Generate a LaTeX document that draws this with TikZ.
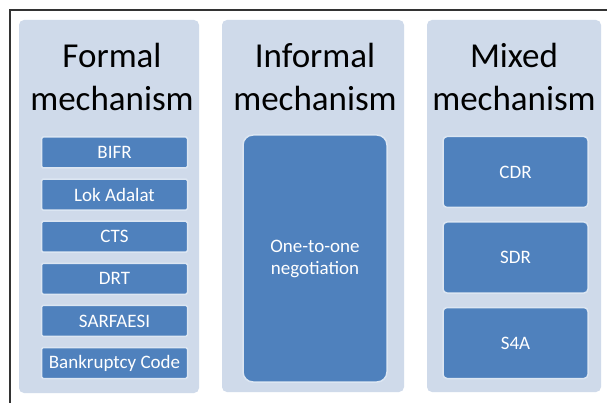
\documentclass[tikz,border=0pt]{standalone}
\usepackage{fontspec}
\setmainfont{Carlito}
\definecolor{colfill}{HTML}{CFDAEA}
\definecolor{boxfill}{HTML}{4F81BD}
\definecolor{boxline}{HTML}{DCE6F2}
\definecolor{framecol}{HTML}{333333}
\begin{document}
\begin{tikzpicture}[x=1pt,y=-1pt,
  colbox/.style={fill=colfill, draw=none, rounded corners=5pt},
  title/.style={font=\fontsize{35}{43}\selectfont, align=center, text=black, inner sep=0pt},
  item/.style={fill=boxfill, draw=boxline, line width=1.5pt, text=white,
     font=\fontsize{19}{22}\selectfont, align=center, inner sep=0pt},
  frameline/.style={draw=framecol, line width=1.6pt}]
\useasboundingbox (0,0) rectangle (607,403);
\fill[white] (0,0) rectangle (607,403);
\draw[frameline] (10,403) -- (10,10) -- (607,10);
% columns
\fill[colbox] (19,20) rectangle (199,393);
\fill[colbox] (222,20) rectangle (404,392);
\fill[colbox] (427,20) rectangle (601,392);
% titles
\node[title] (tf) at (112,77) {Formal\\mechanism};
\node[title] (ti) at (315,77) {Informal\\mechanism};
\node[title] (tm) at (514,77) {Mixed\\mechanism};
% formal items
\foreach \n/\t [count=\i from 0] in {bifr/BIFR, lok/Lok Adalat, cts/CTS, drt/DRT, sarf/SARFAESI, bank/Bankruptcy Code}{
  \node[item, rounded corners=1.5pt, minimum width=146pt, minimum height=31pt] (\n) at (114.5,{152.5+42.1*\i}) {\t};
}
% informal item
\node[item, rounded corners=10pt, minimum width=144pt, minimum height=247pt] (one) at (315,258.5) {One-to-one\\negotiation};
% mixed items
\foreach \n/\t [count=\i from 0] in {cdr/CDR, sdr/SDR, sfa/S4A}{
  \node[item, rounded corners=4pt, minimum width=145pt, minimum height=71pt] (\n) at (515.5,{172+85.5*\i}) {\t};
}
\end{tikzpicture}
\end{document}
